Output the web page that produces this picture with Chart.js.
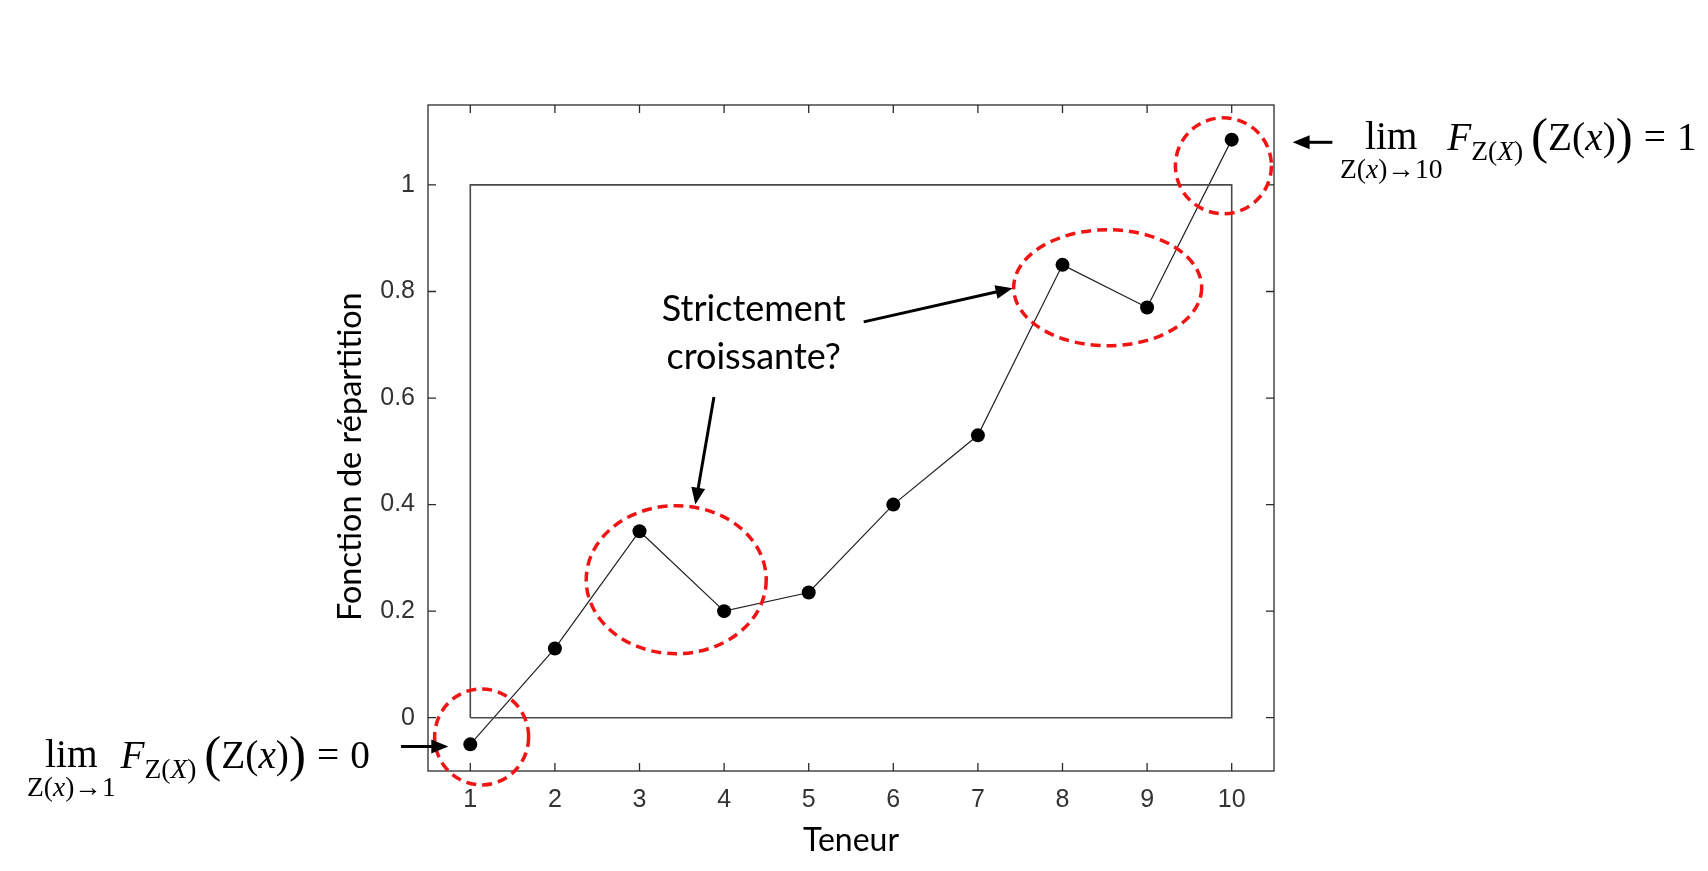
<!DOCTYPE html>
<html>
<head>
<meta charset="utf-8">
<title>Fonction de répartition</title>
<script src="https://cdn.jsdelivr.net/npm/chart.js@4/dist/chart.umd.min.js"></script>
<style>
  html, body { margin: 0; padding: 0; background: #fff; }
  #wrap { width: 1708px; height: 871px; }
</style>
</head>
<body>
<div id="wrap"><canvas id="cdfChart"></canvas></div>
<script>
// valeurs
const teneur = [1, 2, 3, 4, 5, 6, 7, 8, 9, 10];
const repartition = [-0.05, 0.13, 0.35, 0.2, 0.235, 0.4, 0.53, 0.85, 0.77, 1.085];

// cadre [0, 1] entre la premiere et la derniere teneur
const cadreX = [1, 1, 10, 10, 1];
const cadreY = [0, 1, 1, 0, 0];

const xTicks = [1, 2, 3, 4, 5, 6, 7, 8, 9, 10];
const yTicks = [0, 0.2, 0.4, 0.6, 0.8, 1];
const yTickLabels = ["0", "0.2", "0.4", "0.6", "0.8", "1"];

const titreY = "Fonction de répartition";
const texteQuestion = ["Strictement", "croissante?"];

// annotations (centres en coordonnees des donnees, rayons en pixels)
const cercles = [
  { x: 1.134, y: -0.036, rx: 47, ry: 48 },
  { x: 3.434, y: 0.259, rx: 90, ry: 74 },
  { x: 8.534, y: 0.807, rx: 94, ry: 58 },
  { x: 9.902, y: 1.036, rx: 48, ry: 48 },
];
const fleches = [
  { x1: 5.65, y1: 0.743, x2: 7.41, y2: 0.806 },
  { x1: 3.88, y1: 0.602, x2: 3.66, y2: 0.40 },
  { x1: 0.18, y1: -0.054, x2: 0.74, y2: -0.054 },
  { x1: 11.19, y1: 1.08, x2: 10.72, y2: 1.08 },
];

const serif = "'Liberation Serif', 'DejaVu Serif', serif";
const sans = "Lato, 'Noto Sans', sans-serif";

function run(ctx, parts, size, x, y, draw) {
  let w = 0;
  for (const [t, it] of parts) {
    ctx.font = (it ? "italic " : "") + size + "px " + serif;
    if (draw) ctx.fillText(t, x + w, y);
    w += ctx.measureText(t).width;
  }
  return w;
}

// lim_{Z(x) -> cible} F_{Z(X)} ( Z(x) ) = valeur
function limite(ctx, x0, base, cible, valeur, size, draw) {
  const s = size * 0.7;
  const sub = [["Z(", false], ["x", true], [")\u2192" + cible, false]];
  const wSub = run(ctx, sub, s, 0, 0, false);
  const wLim = run(ctx, [["lim", false]], size, 0, 0, false);
  const wBloc = Math.max(wSub, wLim);
  run(ctx, [["lim", false]], size, x0 + (wBloc - wLim) / 2, base - 1, draw);
  run(ctx, sub, s, x0 + (wBloc - wSub) / 2, base + size * 0.72, draw);
  let x = x0 + wBloc + size * 0.12;
  x += run(ctx, [["F", true]], size, x, base, draw);
  x += run(ctx, [["Z(", false], ["X", true], [")", false]], s, x, base + size * 0.25, draw);
  x += size * 0.2;
  x += run(ctx, [["(", false]], size * 1.3, x, base + size * 0.08, draw);
  x += run(ctx, [["Z(", false], ["x", true], [")", false]], size, x, base, draw);
  x += run(ctx, [[")", false]], size * 1.3, x, base + size * 0.08, draw);
  x += size * 0.28;
  x += run(ctx, [["=", false]], size, x, base, draw);
  x += size * 0.28;
  x += run(ctx, [[valeur, false]], size, x, base, draw);
  return x - x0;
}

function fleche(ctx, x1, y1, x2, y2) {
  const a = Math.atan2(y2 - y1, x2 - x1);
  const head = 17, half = 7;
  ctx.strokeStyle = "#000";
  ctx.fillStyle = "#000";
  ctx.lineWidth = 3;
  ctx.beginPath();
  ctx.moveTo(x1, y1);
  ctx.lineTo(x2 - head * 0.8 * Math.cos(a), y2 - head * 0.8 * Math.sin(a));
  ctx.stroke();
  ctx.beginPath();
  ctx.moveTo(x2, y2);
  ctx.lineTo(x2 - head * Math.cos(a) + half * Math.sin(a), y2 - head * Math.sin(a) - half * Math.cos(a));
  ctx.lineTo(x2 - head * Math.cos(a) - half * Math.sin(a), y2 - head * Math.sin(a) + half * Math.cos(a));
  ctx.closePath();
  ctx.fill();
}

const cadreAxes = {
  id: "cadreAxes",
  beforeDatasetsDraw(chart) {
    const { ctx, chartArea: a, scales: { x, y } } = chart;
    const tl = 8;
    ctx.save();
    ctx.strokeStyle = "#2b2b2b";
    ctx.lineWidth = 1.3;
    ctx.strokeRect(a.left, a.top, a.right - a.left, a.bottom - a.top);
    ctx.beginPath();
    xTicks.forEach((v) => {
      const px = x.getPixelForValue(v);
      ctx.moveTo(px, a.bottom); ctx.lineTo(px, a.bottom - tl);
      ctx.moveTo(px, a.top); ctx.lineTo(px, a.top + tl);
    });
    yTicks.forEach((v) => {
      const py = y.getPixelForValue(v);
      ctx.moveTo(a.left, py); ctx.lineTo(a.left + tl, py);
      ctx.moveTo(a.right, py); ctx.lineTo(a.right - tl, py);
    });
    ctx.stroke();

    // titre de l'axe vertical (un peu sous le centre, comme dans la figure)
    ctx.translate(351, y.getPixelForValue(0.49));
    ctx.rotate(-Math.PI / 2);
    ctx.fillStyle = "#000";
    ctx.textAlign = "center";
    ctx.textBaseline = "middle";
    ctx.font = "32.5px " + sans;
    ctx.fillText(titreY, 0, 0);
    ctx.restore();
  },
  afterDatasetsDraw(chart) {
    const { ctx, scales: { x, y } } = chart;
    ctx.save();
    // ellipses rouges en pointilles
    ctx.strokeStyle = "#f01414";
    ctx.lineWidth = 3.5;
    ctx.setLineDash([10, 6]);
    cercles.forEach((c) => {
      ctx.beginPath();
      ctx.ellipse(x.getPixelForValue(c.x), y.getPixelForValue(c.y), c.rx, c.ry, 0, 0, Math.PI * 2);
      ctx.stroke();
    });
    ctx.setLineDash([]);
    fleches.forEach((f) => {
      fleche(ctx, x.getPixelForValue(f.x1), y.getPixelForValue(f.y1),
        x.getPixelForValue(f.x2), y.getPixelForValue(f.y2));
    });

    // texte de la question
    ctx.fillStyle = "#000";
    ctx.textAlign = "center";
    ctx.textBaseline = "alphabetic";
    ctx.font = "36px " + sans;
    const cx = x.getPixelForValue(4.35);
    ctx.fillText(texteQuestion[0], cx, y.getPixelForValue(0.744));
    ctx.fillText(texteQuestion[1], cx, y.getPixelForValue(0.654));

    // limites
    ctx.textAlign = "left";
    const size = 30 * 343 / limite(ctx, 0, 0, "1", "0", 30, false);
    limite(ctx, 27, 768, "1", "0", size, true);
    limite(ctx, 1340, 150, "10", "1", size, true);
    ctx.restore();
  },
};

const ctx = document.getElementById("cdfChart").getContext("2d");
new Chart(ctx, {
  type: "scatter",
  data: {
    datasets: [
      {
        label: "cadre",
        data: cadreX.map((v, i) => ({ x: v, y: cadreY[i] })),
        showLine: true,
        borderColor: "#4a4a4a",
        borderWidth: 1.6,
        pointRadius: 0,
      },
      {
        label: titreY,
        data: teneur.map((v, i) => ({ x: v, y: repartition[i] })),
        showLine: true,
        borderColor: "#222",
        borderWidth: 1.2,
        pointRadius: 7,
        pointBackgroundColor: "#000",
        pointBorderWidth: 0,
      },
    ],
  },
  options: {
    responsive: true,
    maintainAspectRatio: false,
    animation: false,
    layout: { padding: { left: 0, top: 105, right: 434, bottom: 0 } },
    plugins: { legend: { display: false }, tooltip: { enabled: false } },
    scales: {
      x: {
        type: "linear",
        min: 0.5,
        max: 10.5,
        grid: { display: false, drawTicks: false },
        border: { display: false },
        afterBuildTicks: (scale) => { scale.ticks = xTicks.map((v) => ({ value: v })); },
        afterFit: (scale) => { scale.height = 100; },
        ticks: {
          autoSkip: false,
          maxRotation: 0,
          padding: 14,
          color: "#333",
          font: { family: "'Liberation Sans', Arial, sans-serif", size: 25 },
        },
        title: {
          display: true,
          text: "Teneur",
          color: "#000",
          padding: { top: 0, bottom: 11 },
          font: { family: sans, size: 32 },
        },
      },
      y: {
        type: "linear",
        min: -0.1,
        max: 1.15,
        grid: { display: false, drawTicks: false },
        border: { display: false },
        afterBuildTicks: (scale) => { scale.ticks = yTicks.map((v) => ({ value: v })); },
        afterFit: (scale) => { scale.width = 428; },
        ticks: {
          padding: 13,
          color: "#333",
          font: { family: "'Liberation Sans', Arial, sans-serif", size: 25 },
          callback: (v) => yTickLabels[yTicks.indexOf(v)] ?? "",
        },
        title: { display: false },
      },
    },
  },
  plugins: [cadreAxes],
});
</script>
</body>
</html>
